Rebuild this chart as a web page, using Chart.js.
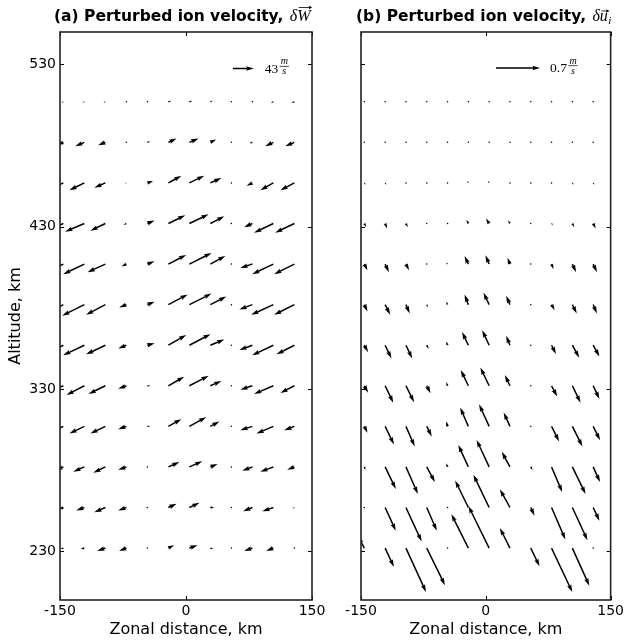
<!DOCTYPE html>
<html>
<head>
<meta charset="utf-8">
<script src="https://cdn.jsdelivr.net/npm/chart.js@4.4.1/dist/chart.umd.min.js"></script>
<style>
  html, body { margin: 0; padding: 0; background: #fff; }
  #wrap { position: relative; width: 627px; height: 641px; overflow: hidden; }
  canvas { position: absolute; top: 0; }
</style>
</head>
<body>
<div id="wrap">
  <canvas id="chart-a" width="340" height="641" style="left:0"></canvas>
  <canvas id="chart-b" width="312" height="641" style="left:315px"></canvas>
</div>
<script>
// quiver grid (tails of the arrows)
const zonal = [-146, -121, -96, -71, -46, -21, 4, 29, 54, 79, 104, 129];      // km
const altitude = [507, 482, 457, 432, 407, 382, 357, 332, 307, 282, 257, 232]; // km, top row first
const xTicks = [-150, 0, 150];
const yTicks = [230, 330, 430, 530];

// (a) perturbed ion velocity dW, m/s  (one row per altitude)
const windU = [
  [-4, -4, -4, -1, 1, 6, 6, 5, 0.5, -1, -5, -6],
  [-12, -19, -15, -1, 6, 17, 19, 12, 0.5, -6, -17, -19],
  [-21, -31, -23, -3, 12, 27, 31, 23, 0.5, -12, -27, -29],
  [-27, -40, -31, -6, 15, 35, 40, 29, 0.5, -17, -40, -40],
  [-31, -44, -37, -10, 15, 37, 46, 31, 0.5, -25, -44, -42],
  [-31, -46, -40, -15, 15, 40, 46, 33, 0.5, -27, -46, -42],
  [-31, -44, -40, -17, 15, 37, 44, 29, 0.5, -27, -44, -37],
  [-27, -37, -35, -17, 6, 33, 40, 23, 0.5, -25, -40, -29],
  [-21, -31, -31, -17, 6, 27, 35, 19, 0.5, -25, -35, -21],
  [-17, -23, -25, -17, 1, 23, 27, 15, 0.5, -21, -27, -15],
  [-10, -17, -23, -17, 1, 17, 21, 8, 0.5, -19, -23, -4],
  [-6, -8, -17, -15, 1, 12, 17, 6, 1, -17, -15, -2]
];
const windV = [
  [-2, -2, -2, 0, 0, 2, 2, 2, 0, 0, -2, -2],
  [-6, -8, -6, 0, 2, 8, 8, 6, 0, -2, -8, -8],
  [-10, -15, -10, -1, 4, 15, 15, 10, 0, -6, -15, -15],
  [-12, -17, -15, -3, 6, 17, 19, 15, 0, -8, -19, -19],
  [-15, -21, -17, -5, 6, 19, 23, 17, 0, -8, -21, -21],
  [-17, -23, -21, -6, 6, 21, 23, 17, 0, -10, -21, -21],
  [-15, -21, -19, -7, 4, 21, 23, 12, 0, -10, -21, -19],
  [-12, -19, -17, -6, 0, 19, 21, 10, 0, -8, -17, -15],
  [-10, -15, -15, -6, 0, 15, 19, 10, 0, -8, -15, -8],
  [-6, -10, -12, -6, 0, 10, 12, 6, 0, -8, -10, -6],
  [-4, -6, -10, -6, 0, 8, 10, 0, 0, -8, -8, -2],
  [-2, -2, -6, -6, 0, 6, 6, -2, 0, -6, -6, 0]
];

// (b) perturbed ion velocity du_i, m/s
const ionU = [
  [0, 0, 0, 0, 0, 0, 0, 0, 0, 0, 0, 0],
  [0, 0, 0, 0, 0, 0, 0, 0, 0, 0, 0, 0],
  [0.02, 0.02, 0.01, 0, 0, -0.02, -0.02, -0.01, 0, 0, 0.02, 0.02],
  [0.03, 0.03, 0.03, 0.005, -0.01, -0.03, -0.05, -0.03, 0, 0.02, 0.03, 0.04],
  [0.05, 0.06, 0.05, 0.01, -0.02, -0.06, -0.06, -0.04, 0, 0.03, 0.06, 0.06],
  [0.05, 0.08, 0.06, 0.02, -0.02, -0.06, -0.09, -0.06, 0, 0.05, 0.07, 0.06],
  [0.06, 0.10, 0.10, 0.03, -0.02, -0.10, -0.11, -0.06, 0, 0.07, 0.11, 0.10],
  [0.06, 0.13, 0.13, 0.06, -0.02, -0.12, -0.14, -0.08, 0, 0.09, 0.13, 0.10],
  [0.05, 0.14, 0.14, 0.08, -0.02, -0.13, -0.16, -0.10, 0.005, 0.12, 0.16, 0.11],
  [0.02, 0.17, 0.19, 0.13, -0.02, -0.16, -0.20, -0.13, 0.03, 0.17, 0.21, 0.11],
  [0.01, 0.17, 0.25, 0.16, 0, -0.21, -0.25, -0.16, 0.06, 0.22, 0.24, 0.10],
  [-0.10, 0.14, 0.32, 0.29, 0, -0.27, -0.33, -0.16, 0.14, 0.33, 0.27, 0.005]
];
const ionV = [
  [-0.005, -0.005, -0.005, -0.005, -0.005, -0.005, -0.005, -0.005, -0.005, -0.005, -0.005, -0.005],
  [-0.005, -0.005, -0.005, -0.005, -0.005, -0.005, -0.005, -0.005, -0.005, -0.005, -0.005, -0.005],
  [-0.03, -0.03, -0.02, 0, 0, 0.03, 0.03, 0.02, 0, 0, -0.03, -0.03],
  [-0.06, -0.08, -0.06, -0.01, 0.02, 0.06, 0.08, 0.05, 0, -0.03, -0.06, -0.08],
  [-0.10, -0.13, -0.10, -0.02, 0.03, 0.13, 0.14, 0.10, 0, -0.08, -0.13, -0.13],
  [-0.11, -0.16, -0.14, -0.04, 0.05, 0.16, 0.19, 0.14, 0, -0.09, -0.14, -0.14],
  [-0.11, -0.21, -0.21, -0.06, 0.06, 0.21, 0.24, 0.15, 0, -0.14, -0.20, -0.18],
  [-0.11, -0.27, -0.26, -0.12, 0.06, 0.25, 0.29, 0.17, 0, -0.17, -0.27, -0.21],
  [-0.10, -0.29, -0.32, -0.16, 0.08, 0.30, 0.35, 0.22, -0.01, -0.24, -0.32, -0.22],
  [-0.05, -0.35, -0.43, -0.24, 0.06, 0.35, 0.43, 0.24, -0.05, -0.40, -0.43, -0.24],
  [-0.02, -0.37, -0.54, -0.37, 0.01, 0.43, 0.52, 0.29, -0.13, -0.51, -0.52, -0.21],
  [0.19, -0.30, -0.70, -0.59, 0.01, 0.54, 0.67, 0.32, -0.29, -0.70, -0.60, -0.01]
];

const SHAFT = 1.5;
const SANS = '"DejaVu Sans", sans-serif';
const SERIF = '"Liberation Serif", "DejaVu Serif", serif';

function gridPoints(U, V) {
  const pts = [];
  altitude.forEach((alt, i) => {
    zonal.forEach((z, j) => pts.push({ x: z, y: alt, u: U[i][j], v: V[i][j] }));
  });
  return pts;
}

// matplotlib-like quiver arrow, tail at (x0, y0), vector in pixels
function drawArrow(ctx, x0, y0, dx, dy) {
  const w = SHAFT;
  const len = Math.hypot(dx, dy);
  if (len < w) {
    ctx.beginPath();
    ctx.arc(x0, y0, 0.75, 0, Math.PI * 2);
    ctx.fill();
    return;
  }
  const ex = dx / len, ey = dy / len, nx = -ey, ny = ex;
  const k = len < 5 * w ? len / (5 * w) : 1;
  const sw = w * k / 2, ha = len - 4.5 * w * k, hb = len - 5 * w * k, hw = 1.5 * w * k;
  const shape = [[0, -sw], [ha, -sw], [hb, -hw], [len, 0], [hb, hw], [ha, sw], [0, sw]];
  ctx.beginPath();
  shape.forEach(([a, b], i) => {
    const px = x0 + ex * a + nx * b, py = y0 + ey * a + ny * b;
    if (i) ctx.lineTo(px, py); else ctx.moveTo(px, py);
  });
  ctx.closePath();
  ctx.fill();
}

const quiverPlugin = {
  id: 'quiver',
  afterDatasetsDraw(chart, args, opts) {
    const ctx = chart.ctx;
    const a = chart.chartArea;
    const meta = chart.getDatasetMeta(0);
    const pts = chart.data.datasets[0].data;
    const pxPerUnit = opts.keyPx / opts.keyValue;
    ctx.save();
    ctx.beginPath();
    ctx.rect(a.left, a.top, a.right - a.left, a.bottom - a.top);
    ctx.clip();
    ctx.fillStyle = '#000';
    meta.data.forEach((el, i) => {
      drawArrow(ctx, el.x, el.y, pts[i].u * pxPerUnit, -pts[i].v * pxPerUnit);
    });
    // key arrow and its label
    const kx = a.left + opts.keyX, ky = a.top + opts.keyY;
    drawArrow(ctx, kx, ky, opts.keyValue * pxPerUnit, 0);
    ctx.restore();

    ctx.save();
    ctx.fillStyle = '#000';
    ctx.textBaseline = 'alphabetic';
    let tx = kx + opts.keyPx + opts.keyGap;
    ctx.font = '13.5px ' + SERIF;
    ctx.fillText(opts.keyText, tx, ky + 4);
    tx += ctx.measureText(opts.keyText).width + 1.5;
    ctx.font = 'italic 10px ' + SERIF;
    const mw = ctx.measureText('m').width;
    ctx.fillText('m', tx + 1, ky - 4.5);
    ctx.fillText('s', tx + 1 + (mw - ctx.measureText('s').width) / 2, ky + 5.5);
    ctx.fillRect(tx, ky - 2.6, mw + 2, 0.7);
    ctx.restore();
  }
};

function overArrow(ctx, x1, x2, y) {
  ctx.fillRect(x1, y - 0.4, x2 - x1 - 1, 0.8);
  ctx.beginPath();
  ctx.moveTo(x2, y);
  ctx.lineTo(x2 - 3, y - 1.8);
  ctx.lineTo(x2 - 3, y + 1.8);
  ctx.closePath();
  ctx.fill();
}

const framePlugin = {
  id: 'frame',
  afterDraw(chart, args, opts) {
    const ctx = chart.ctx;
    const a = chart.chartArea;
    const xs = chart.scales.x, ys = chart.scales.y;
    ctx.save();
    ctx.strokeStyle = '#000';
    ctx.lineWidth = 1;
    ctx.beginPath();
    xTicks.forEach(v => {
      const px = Math.round(xs.getPixelForValue(v)) + 0.5;
      ctx.moveTo(px, a.bottom); ctx.lineTo(px, a.bottom - 4);
      ctx.moveTo(px, a.top); ctx.lineTo(px, a.top + 4);
    });
    yTicks.forEach(v => {
      const py = Math.round(ys.getPixelForValue(v)) + 0.5;
      ctx.moveTo(a.left, py); ctx.lineTo(a.left + 4, py);
      ctx.moveTo(a.right, py); ctx.lineTo(a.right - 4, py);
    });
    ctx.stroke();
    ctx.strokeStyle = '#222';
    ctx.lineWidth = 1.6;
    ctx.strokeRect(a.left, a.top, a.right - a.left, a.bottom - a.top);

    // panel title: bold text followed by a small math expression
    ctx.fillStyle = '#000';
    ctx.textBaseline = 'alphabetic';
    ctx.font = 'bold 15.5px ' + SANS;
    const base = 21;
    ctx.fillText(opts.label, opts.titleX, base);
    let x = opts.titleX + ctx.measureText(opts.label).width + 1;
    ctx.font = 'italic 16px ' + SERIF;
    ctx.fillText('\u03b4', x, base);
    x += ctx.measureText('\u03b4').width;
    const sym = opts.symbol;
    const sw = ctx.measureText(sym).width;
    ctx.fillText(sym, x, base);
    overArrow(ctx, x + 1.5, x + sw + 1.5, base - (sym === 'W' ? 13.5 : 10));
    x += sw;
    if (opts.sub) {
      ctx.font = 'italic 11px ' + SERIF;
      ctx.fillText(opts.sub, x + 0.5, base + 3);
    }
    ctx.restore();
  }
};

function panel(id, U, V, o) {
  const tickFont = { family: SANS, size: 14 };
  const titleFont = { family: SANS, size: 16 };
  return new Chart(document.getElementById(id).getContext('2d'), {
    type: 'scatter',
    data: {
      datasets: [{
        data: gridPoints(U, V),
        pointRadius: 0,
        pointHoverRadius: 0,
        showLine: false
      }]
    },
    options: {
      responsive: false,
      animation: false,
      events: [],
      layout: { padding: { top: 32, right: o.padRight, left: 0, bottom: 0 } },
      plugins: {
        legend: { display: false },
        tooltip: { enabled: false },
        quiver: o.quiver,
        frame: o.frame
      },
      scales: {
        x: {
          type: 'linear',
          min: -150,
          max: 150,
          afterBuildTicks: s => { s.ticks = xTicks.map(v => ({ value: v })); },
          grid: { display: false, drawTicks: false },
          border: { display: false },
          ticks: { font: tickFont, color: '#000', padding: 3, maxRotation: 0, autoSkip: false },
          title: { display: true, text: 'Zonal distance, km', font: titleFont, color: '#000', padding: { top: 0, bottom: 2 } },
          afterFit: s => { s.height = 41; }
        },
        y: {
          type: 'linear',
          min: 200,
          max: 550,
          afterBuildTicks: s => { s.ticks = yTicks.map(v => ({ value: v })); },
          grid: { display: false, drawTicks: false },
          border: { display: false },
          ticks: { display: o.yLabels, font: tickFont, color: '#000', padding: 4 },
          title: { display: o.yLabels, text: 'Altitude, km', font: titleFont, color: '#000', padding: { top: 6, bottom: 0 } },
          afterFit: s => { s.width = o.yWidth; }
        }
      }
    },
    plugins: [quiverPlugin, framePlugin]
  });
}

panel('chart-a', windU, windV, {
  padRight: 28,
  yWidth: 60,
  yLabels: true,
  quiver: { keyValue: 43, keyPx: 20.7, keyText: '43', keyX: 173, keyY: 36.5, keyGap: 11 },
  frame: { label: '(a) Perturbed ion velocity, ', titleX: 54, symbol: 'W' }
});

panel('chart-b', ionU, ionV, {
  padRight: 14,
  yWidth: 46,
  yLabels: false,
  quiver: { keyValue: 0.7, keyPx: 44, keyText: '0.7', keyX: 135, keyY: 36, keyGap: 10 },
  frame: { label: '(b) Perturbed ion velocity, ', titleX: 41, symbol: 'u', sub: 'i' }
});
</script>
</body>
</html>
